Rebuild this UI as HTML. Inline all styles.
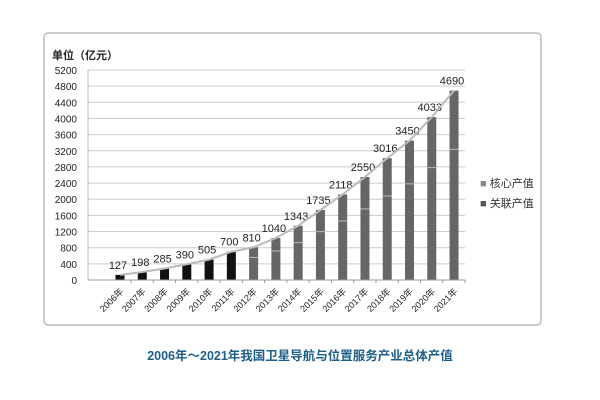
<!DOCTYPE html><html><head><meta charset="utf-8"><style>body{margin:0;background:#fff}svg{display:block}text{font-family:"Liberation Sans","Noto Sans CJK SC",sans-serif}</style></head><body>
<svg width="600" height="400" viewBox="0 0 600 400">
<rect x="44" y="33" width="497" height="292" rx="4" fill="#fff" stroke="#bbb" stroke-width="1.5"/>
<text x="52" y="59" font-size="11" font-weight="bold" fill="#222">单位（亿元）</text>
<g id="g"></g>
<text x="300" y="360" font-size="12.5" font-weight="bold" fill="#1d5f8a" text-anchor="middle">2006年～2021年我国卫星导航与位置服务产业总体产值</text>
<text x="480" y="187" font-size="11" fill="#333"><tspan fill="#888">■</tspan> 核心产值</text>
<text x="480" y="207" font-size="11" fill="#333"><tspan fill="#555">■</tspan> 关联产值</text>
</svg>
<script>
var g=document.getElementById('g'),s='';
function Y(v){return 280-v*210/5200}
for(var v=0;v<=5200;v+=400){var y=Y(v);s+='<line x1="88" x2="465" y1="'+y+'" y2="'+y+'" stroke="#ccc" stroke-width="1"/><text x="77" y="'+(y+4)+'" font-size="10" text-anchor="end" fill="#222">'+v+'</text>';}
s+='<line x1="88" x2="88" y1="70" y2="280" stroke="#bbb"/>';
var d=[127,198,285,390,505,700,810,1040,1343,1735,2118,2550,3016,3450,4033,4690],pts=[];
for(var i=0;i<16;i++){var x=120+i*22.27,v=d[i],y=Y(v);
if(i<6)s+='<rect x="'+(x-4.5)+'" y="'+y+'" width="9" height="'+(280-y)+'" fill="#111"/>';
else{s+='<rect x="'+(x-4.5)+'" y="'+y+'" width="9" height="'+(280-y)+'" fill="#666"/><line x1="'+(x-4.5)+'" x2="'+(x+4.5)+'" y1="'+Y(v*0.69)+'" y2="'+Y(v*0.69)+'" stroke="#bbb"/>';}
pts.push([x,y]);
s+='<text x="'+(x-2)+'" y="'+(y-6)+'" font-size="11" text-anchor="middle" fill="#222">'+v+'</text>';
s+='<text transform="translate('+(x+4)+',292) rotate(-45)" font-size="9" text-anchor="end" fill="#222">'+(2006+i)+'年</text>';
s+='<line x1="'+(x+11)+'" x2="'+(x+11)+'" y1="280" y2="283" stroke="#999"/>';}
s+='<line x1="88" x2="465" y1="280" y2="280" stroke="#999"/>';
s+='<polyline fill="none" stroke="#bbb" stroke-width="2" points="'+pts.map(p=>p.join(',')).join(' ')+'"/>';
g.innerHTML=s;
</script>
</body></html>
